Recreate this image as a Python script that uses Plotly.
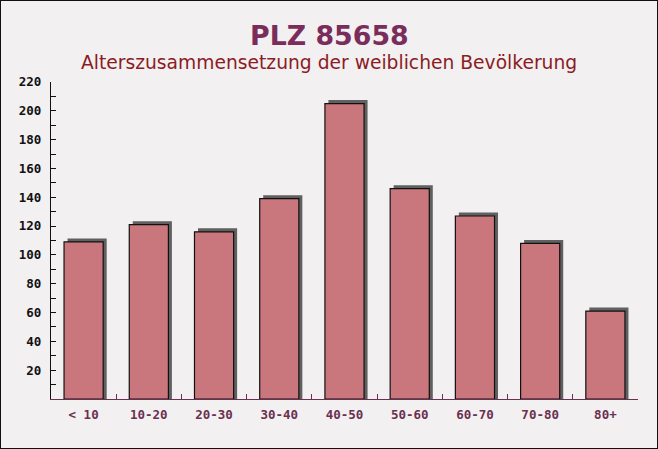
import plotly.graph_objects as go

categories = ["< 10", "10-20", "20-30", "30-40", "40-50", "50-60", "60-70", "70-80", "80+"]
values = [109, 121, 116, 139, 205, 146, 127, 108, 61]
y_ticks = [20, 40, 60, 80, 100, 120, 140, 160, 180, 200, 220]

title_text = "PLZ 85658"
subtitle_text = "Alterszusammensetzung der weiblichen Bevölkerung"

W, H = 658, 449
ML, MR, MT, MB = 51, 20, 82, 50
PW, PH = W - ML - MR, H - MT - MB
Y_MAX = 220

bar_w = 0.6
shadow_px = 3.5
dx = shadow_px / (PW / len(categories))
dy = shadow_px / (PH / Y_MAX)

fig = go.Figure()
fig.add_trace(go.Bar(
    x=categories, y=[v + dy for v in values],
    width=bar_w, offset=-bar_w / 2 + dx,
    marker=dict(color="#606060", line=dict(width=0)),
    hoverinfo="skip", showlegend=False,
))
fig.add_trace(go.Bar(
    x=categories, y=values,
    width=bar_w, offset=-bar_w / 2,
    marker=dict(color="#c9777d", line=dict(color="#111111", width=1.2)),
    showlegend=False,
))

def py(px):
    return 1 + (MT - px) / PH

cx = 0.5 - (ML - MR) / 2 / PW
fig.add_annotation(text="<b>" + title_text + "</b>", xref="paper", yref="paper",
                   x=cx, y=py(35), xanchor="center", yanchor="middle",
                   showarrow=False, font=dict(family="DejaVu Sans", size=26.8, color="#7a2d5b"))
fig.add_annotation(text=subtitle_text, xref="paper", yref="paper",
                   x=cx, y=py(63), xanchor="center", yanchor="middle",
                   showarrow=False, font=dict(family="DejaVu Sans", size=18.7, color="#8b1c24"))

fig.add_shape(type="rect", xref="paper", yref="paper",
              x0=-ML / PW, x1=1 + MR / PW, y0=-MB / PH, y1=1 + MT / PH,
              line=dict(color="#111111", width=2), layer="above")

fig.update_layout(
    width=W, height=H,
    margin=dict(l=ML, r=MR, t=MT, b=MB),
    paper_bgcolor="#f2f0f1",
    plot_bgcolor="rgba(0,0,0,0)",
    barmode="overlay",
    showlegend=False,
    xaxis=dict(
        type="category",
        showline=True, linecolor="#6b2f4f", linewidth=1.2,
        ticks="inside", tickson="boundaries", ticklen=5, tickcolor="#6b2f4f",
        tickfont=dict(family="DejaVu Sans Mono", size=12.5, color="#6b2f4f", weight="bold"),
        ticklabelstandoff=4,
        showgrid=False, zeroline=False, fixedrange=True,
    ),
    yaxis=dict(
        range=[0, Y_MAX],
        tickvals=y_ticks, ticktext=[str(v) for v in y_ticks],
        showline=True, linecolor="#111111", linewidth=1.2,
        ticks="inside", ticklen=5, tickcolor="#111111",
        minor=dict(dtick=10, ticks="inside", ticklen=5, tickcolor="#111111"),
        tickfont=dict(family="DejaVu Sans Mono", size=12.5, color="#111111", weight="bold"),
        ticklabelstandoff=6,
        showgrid=False, zeroline=False, fixedrange=True,
    ),
)

fig.write_html("out.html")
